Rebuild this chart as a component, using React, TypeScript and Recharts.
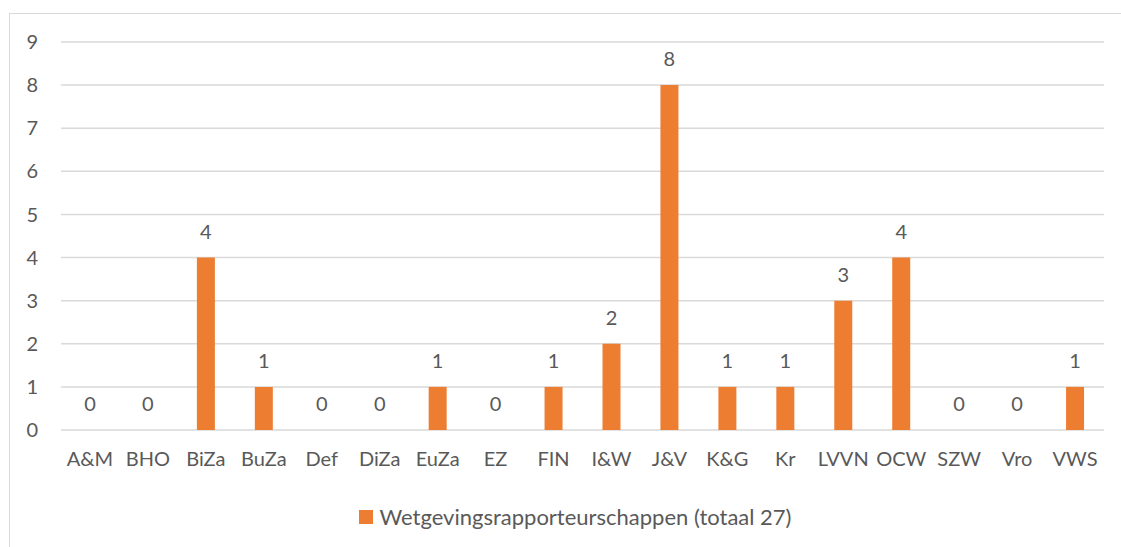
import React from 'react';
import { ComposedChart, Bar, Line, XAxis, YAxis, CartesianGrid, Legend, LabelList } from 'recharts';

const categories = ['A&M', 'BHO', 'BiZa', 'BuZa', 'Def', 'DiZa', 'EuZa', 'EZ', 'FIN', 'I&W', 'J&V', 'K&G', 'Kr', 'LVVN', 'OCW', 'SZW', 'Vro', 'VWS'];
const counts = [0, 0, 4, 1, 0, 0, 1, 0, 1, 2, 8, 1, 1, 3, 4, 0, 0, 1];
const yTicks = [0, 1, 2, 3, 4, 5, 6, 7, 8, 9];
const seriesName = 'Wetgevingsrapporteurschappen (totaal 27)';

const data = categories.map((name, i) => ({ name, value: counts[i] }));

const FONT = 'Lato, "Open Sans", sans-serif';
const TEXT = '#595959';
const ORANGE = '#ed7d31';

const LegendContent = () => (
  <div style={{ display: 'flex', justifyContent: 'center', alignItems: 'center', fontFamily: FONT, fontSize: 22, color: TEXT, lineHeight: '26px' }}>
    <span style={{ width: 14, height: 14, background: ORANGE, display: 'inline-block', marginRight: 6 }} />
    <span>{seriesName}</span>
  </div>
);

export default function App() {
  return (
    <div style={{ position: 'absolute', left: 0, top: 0, width: 1121, height: 547, background: '#fff', overflow: 'hidden' }}>
      <div style={{ position: 'absolute', left: 9, top: 13, width: 1130, height: 560, border: '1px solid #d9d9d9' }} />
      <ComposedChart
        width={1121}
        height={547}
        data={data}
        margin={{ top: 42, right: 17, left: 0, bottom: 0 }}
        barSize={18}
      >
        <CartesianGrid vertical={false} stroke="#d9d9d9" strokeWidth={1.5} />
        <XAxis
          dataKey="name"
          axisLine={false}
          tickLine={false}
          tickSize={0}
          tickMargin={22}
          height={91}
          interval={0}
          tick={{ fill: TEXT, fontSize: 20, fontFamily: FONT }}
        />
        <YAxis
          width={61}
          domain={[0, 9]}
          ticks={yTicks}
          axisLine={false}
          tickLine={false}
          tickSize={0}
          tickMargin={23}
          tick={{ fill: TEXT, fontSize: 20, fontFamily: FONT }}
        />
        <Legend
          content={<LegendContent />}
          wrapperStyle={{ position: 'absolute', top: 504, left: 15, width: 1121 }}
        />
        <Bar dataKey="value" name={seriesName} fill={ORANGE} isAnimationActive={false} />
        <Line
          dataKey="value"
          stroke="none"
          dot={false}
          activeDot={false}
          legendType="none"
          isAnimationActive={false}
        >
          <LabelList dataKey="value" position="top" offset={19} fill={TEXT} fontSize={20} fontFamily={FONT} />
        </Line>
      </ComposedChart>
    </div>
  );
}
